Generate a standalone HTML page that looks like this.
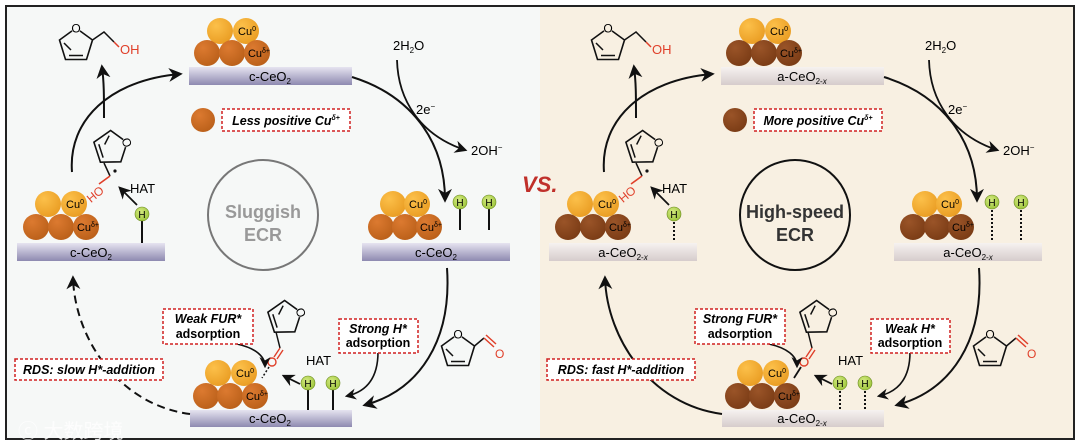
<!DOCTYPE html>
<html><head><meta charset="utf-8"><style>
html,body{margin:0;padding:0;background:#fff;}
svg{display:block;font-family:"Liberation Sans",Arial,sans-serif;}
</style></head><body>
<svg width="1080" height="447" viewBox="0 0 1080 447" xmlns="http://www.w3.org/2000/svg">
<defs>
<radialGradient id="lo" cx="0.35" cy="0.3" r="0.8"><stop offset="0" stop-color="#fcc04a"/><stop offset="1" stop-color="#e89a20"/></radialGradient>
<radialGradient id="do" cx="0.35" cy="0.3" r="0.8"><stop offset="0" stop-color="#dc7a30"/><stop offset="1" stop-color="#b85e18"/></radialGradient>
<radialGradient id="br" cx="0.35" cy="0.3" r="0.8"><stop offset="0" stop-color="#9a5428"/><stop offset="1" stop-color="#783a14"/></radialGradient>
<radialGradient id="hg" cx="0.4" cy="0.35" r="0.7"><stop offset="0" stop-color="#d4ea80"/><stop offset="1" stop-color="#9cc43a"/></radialGradient>
<linearGradient id="barc" x1="0" y1="0" x2="0" y2="1"><stop offset="0" stop-color="#e6e4f0"/><stop offset="1" stop-color="#8e8ab0"/></linearGradient>
<linearGradient id="bara" x1="0" y1="0" x2="0" y2="1"><stop offset="0" stop-color="#f6f2f0"/><stop offset="1" stop-color="#d6cccc"/></linearGradient>
<marker id="ah" viewBox="0 0 10 10" refX="8" refY="5" markerWidth="7" markerHeight="7" orient="auto-start-reverse"><path d="M0,0 L10,5 L0,10 L3,5 z" fill="#111"/></marker>
<g id="furan"><path d="M0,-18 L16.5,-6 L10.5,13.5 L-10.5,13.5 L-16.5,-6 Z" fill="none" stroke="#111" stroke-width="1.6"/><path d="M-7,9.5 L7,9.5 M-12,-3 L-5,4" stroke="#111" stroke-width="1.5"/><circle cx="0" cy="-18" r="5" fill="#f6f8f7" stroke="none"/><text x="0" y="-13.5" font-size="12" text-anchor="middle">O</text></g>
<g id="furanb"><path d="M0,-18 L16.5,-6 L10.5,13.5 L-10.5,13.5 L-16.5,-6 Z" fill="none" stroke="#111" stroke-width="1.6"/><path d="M-7,9.5 L7,9.5 M-12,-3 L-5,4" stroke="#111" stroke-width="1.5"/><circle cx="0" cy="-18" r="5" fill="#f8f0e2" stroke="none"/><text x="0" y="-13.5" font-size="12" text-anchor="middle">O</text></g>
</defs>
<rect x="0" y="0" width="1080" height="447" fill="#fff"/>
<rect x="6" y="6" width="534" height="433" fill="#f6f8f7"/>
<rect x="540" y="6" width="534" height="433" fill="#f8f0e2"/>
<rect x="6" y="6" width="1068" height="433" fill="none" stroke="#222" stroke-width="2"/>

<!-- LEFT HALF -->
<g>
 <circle cx="220" cy="31" r="13" fill="url(#lo)"/><circle cx="246" cy="31" r="13" fill="url(#lo)"/>
 <circle cx="207" cy="53" r="13" fill="url(#do)"/><circle cx="232" cy="53" r="13" fill="url(#do)"/><circle cx="257" cy="53" r="13" fill="url(#do)"/>
 <text x="247" y="35" font-size="11" text-anchor="middle">Cu<tspan font-size="7" dy="-4">0</tspan></text>
 <text x="259" y="57" font-size="11" text-anchor="middle">Cu<tspan font-size="7" dy="-4">δ+</tspan></text>
 <rect x="189" y="67" width="163" height="18" fill="url(#barc)"/>
 <text x="270" y="81" font-size="13" text-anchor="middle">c-CeO<tspan font-size="8" dy="3">2</tspan></text>
 <circle cx="203" cy="120" r="12" fill="url(#do)"/>
 <rect x="222" y="109" width="128" height="22" fill="#fff" stroke="#d02020" stroke-width="1.5" stroke-dasharray="3,2"/>
 <text x="286" y="125" font-size="12.5" font-weight="bold" font-style="italic" text-anchor="middle">Less positive Cu<tspan font-size="7" dy="-5">δ+</tspan></text>
 <use href="#furan" x="76" y="46"/>
 <path d="M92.5,40 L104,32 L114,42" fill="none" stroke="#111" stroke-width="1.5"/><path d="M114,42 L119,47" stroke="#e0402a" stroke-width="1.5"/>
 <text x="120" y="54" font-size="13" fill="#e0402a">OH</text>
 <path d="M72,172 C68,120 110,80 180,74" fill="none" stroke="#111" stroke-width="2" marker-end="url(#ah)"/>
 <path d="M104,118 C104,95 104,82 102,67" fill="none" stroke="#111" stroke-width="2" marker-end="url(#ah)"/>
 <text x="393" y="50" font-size="13">2H<tspan font-size="8" dy="3">2</tspan><tspan dy="-3">O</tspan></text>
 <path d="M397,60 C398,100 420,135 465,150" fill="none" stroke="#111" stroke-width="1.8" marker-end="url(#ah)"/>
 <text x="416" y="114" font-size="13">2e<tspan font-size="8" dy="-5">−</tspan></text>
 <text x="471" y="155" font-size="13">2OH<tspan font-size="8" dy="-5">−</tspan></text>
 <path d="M352,77 C410,95 445,140 445,200" fill="none" stroke="#111" stroke-width="2" marker-end="url(#ah)"/>
 <circle cx="393" cy="204" r="13" fill="url(#lo)"/><circle cx="417" cy="204" r="13" fill="url(#lo)"/>
 <circle cx="381" cy="227" r="13" fill="url(#do)"/><circle cx="405" cy="227" r="13" fill="url(#do)"/><circle cx="429" cy="227" r="13" fill="url(#do)"/>
 <text x="418" y="208" font-size="11" text-anchor="middle">Cu<tspan font-size="7" dy="-4">0</tspan></text>
 <text x="431" y="231" font-size="11" text-anchor="middle">Cu<tspan font-size="7" dy="-4">δ+</tspan></text>
 <line x1="460" y1="208" x2="460" y2="230" stroke="#111" stroke-width="2"/><line x1="489" y1="208" x2="489" y2="230" stroke="#111" stroke-width="2"/>
 <circle cx="460" cy="202" r="7" fill="url(#hg)" stroke="#6a8a20" stroke-width="0.6"/><text x="460" y="206" font-size="10" text-anchor="middle">H</text>
 <circle cx="489" cy="202" r="7" fill="url(#hg)" stroke="#6a8a20" stroke-width="0.6"/><text x="489" y="206" font-size="10" text-anchor="middle">H</text>
 <rect x="362" y="243" width="148" height="18" fill="url(#barc)"/>
 <text x="436" y="257" font-size="13" text-anchor="middle">c-CeO<tspan font-size="8" dy="3">2</tspan></text>
 <circle cx="48" cy="204" r="13" fill="url(#lo)"/><circle cx="74" cy="204" r="13" fill="url(#lo)"/>
 <circle cx="36" cy="227" r="13" fill="url(#do)"/><circle cx="61" cy="227" r="13" fill="url(#do)"/><circle cx="86" cy="227" r="13" fill="url(#do)"/>
 <text x="75" y="208" font-size="11" text-anchor="middle">Cu<tspan font-size="7" dy="-4">0</tspan></text>
 <text x="88" y="231" font-size="11" text-anchor="middle">Cu<tspan font-size="7" dy="-4">δ+</tspan></text>
 <line x1="142" y1="220" x2="142" y2="243" stroke="#111" stroke-width="2"/>
 <circle cx="142" cy="214" r="7" fill="url(#hg)" stroke="#6a8a20" stroke-width="0.6"/><text x="142" y="218" font-size="10" text-anchor="middle">H</text>
 <rect x="17" y="243" width="148" height="18" fill="url(#barc)"/>
 <text x="91" y="257" font-size="13" text-anchor="middle">c-CeO<tspan font-size="8" dy="3">2</tspan></text>
 <use href="#furan" x="110" y="148" transform="rotate(72 110 148)"/>
 <line x1="104" y1="163" x2="110" y2="176" stroke="#111" stroke-width="1.5"/>
 <path d="M110,176 L99,184" stroke="#e0402a" stroke-width="1.6"/>
 <text x="84" y="200" font-size="12" fill="#e0402a" transform="rotate(-40 92 192)">HO</text>
 <circle cx="115" cy="171" r="1.6" fill="#111"/>
 <path d="M137,205 L120,188" stroke="#111" stroke-width="1.8" marker-end="url(#ah)"/>
 <text x="130" y="193" font-size="13">HAT</text>
 <path d="M447,268 C452,340 420,390 365,405" fill="none" stroke="#111" stroke-width="2" marker-end="url(#ah)"/>
 <use href="#furan" x="458" y="352"/>
 <path d="M474.5,346 L484,338" stroke="#111" stroke-width="1.5"/><path d="M484,338 L494,347 M486,335 L496,344" stroke="#e0402a" stroke-width="1.5"/>
 <text x="495" y="358" font-size="12" fill="#e0402a">O</text>
 <circle cx="218" cy="373" r="13" fill="url(#lo)"/><circle cx="244" cy="373" r="13" fill="url(#lo)"/>
 <circle cx="206" cy="396" r="13" fill="url(#do)"/><circle cx="230" cy="396" r="13" fill="url(#do)"/><circle cx="255" cy="396" r="13" fill="url(#do)"/>
 <text x="245" y="377" font-size="11" text-anchor="middle">Cu<tspan font-size="7" dy="-4">0</tspan></text>
 <text x="257" y="400" font-size="11" text-anchor="middle">Cu<tspan font-size="7" dy="-4">δ+</tspan></text>
 <line x1="308" y1="389" x2="308" y2="410" stroke="#111" stroke-width="2"/><line x1="333" y1="389" x2="333" y2="410" stroke="#111" stroke-width="2"/>
 <circle cx="308" cy="383" r="7" fill="url(#hg)" stroke="#6a8a20" stroke-width="0.6"/><text x="308" y="387" font-size="10" text-anchor="middle">H</text>
 <circle cx="333" cy="383" r="7" fill="url(#hg)" stroke="#6a8a20" stroke-width="0.6"/><text x="333" y="387" font-size="10" text-anchor="middle">H</text>
 <rect x="190" y="410" width="162" height="17" fill="url(#barc)"/>
 <text x="270" y="423" font-size="13" text-anchor="middle">c-CeO<tspan font-size="8" dy="3">2</tspan></text>
 <use href="#furan" x="284" y="318" transform="rotate(72 284 318)"/>
 <path d="M276,332 L280,348" stroke="#111" stroke-width="1.5"/>
 <path d="M280,348 L274,357 M283,350 L277,359" stroke="#e0402a" stroke-width="1.4"/>
 <circle cx="272" cy="362" r="4" fill="none" stroke="#e0402a" stroke-width="1.4"/>
 <path d="M269,367 L262,378" stroke="#111" stroke-width="1.5" stroke-dasharray="2,2"/>
 <path d="M300,384 L284,376" stroke="#111" stroke-width="1.8" marker-end="url(#ah)"/>
 <text x="306" y="365" font-size="13">HAT</text>
 <path d="M237,344 C255,348 265,356 265,366" fill="none" stroke="#111" stroke-width="1.6" marker-end="url(#ah)"/>
 <path d="M378,352 C378,380 365,392 347,396" fill="none" stroke="#111" stroke-width="1.6" marker-end="url(#ah)"/>
</g>

<circle cx="263" cy="215" r="55" fill="none" stroke="#777" stroke-width="2"/>
<text x="263" y="218" font-size="18" font-weight="bold" fill="#999" text-anchor="middle">Sluggish</text>
<text x="263" y="241" font-size="18" font-weight="bold" fill="#999" text-anchor="middle">ECR</text>
<rect x="163" y="309" width="90" height="35" fill="#fff" stroke="#d02020" stroke-width="1.5" stroke-dasharray="3,2"/>
<text x="208" y="323" font-size="12.5" font-weight="bold" font-style="italic" text-anchor="middle">Weak FUR*</text>
<text x="208" y="338" font-size="12.5" font-weight="bold" text-anchor="middle">adsorption</text>
<rect x="339" y="319" width="79" height="34" fill="#fff" stroke="#d02020" stroke-width="1.5" stroke-dasharray="3,2"/>
<text x="378" y="333" font-size="12.5" font-weight="bold" font-style="italic" text-anchor="middle">Strong H*</text>
<text x="378" y="347" font-size="12.5" font-weight="bold" text-anchor="middle">adsorption</text>
<path d="M190,414 C120,405 75,340 73,278" fill="none" stroke="#111" stroke-width="2" stroke-dasharray="8,5" marker-end="url(#ah)"/>
<rect x="15" y="359" width="148" height="21" fill="#fff" stroke="#d02020" stroke-width="1.5" stroke-dasharray="3,2"/>
<text x="89" y="374" font-size="12.5" font-weight="bold" font-style="italic" text-anchor="middle">RDS: slow H*-addition</text>
<text x="18" y="438" font-size="20" fill="#fff" opacity="0.85" font-family="'Liberation Sans','Noto Sans CJK SC',sans-serif">ⓒ 大数跨境</text>

<!-- RIGHT HALF -->
<g transform="translate(532,0)">
 <circle cx="220" cy="31" r="13" fill="url(#lo)"/><circle cx="246" cy="31" r="13" fill="url(#lo)"/>
 <circle cx="207" cy="53" r="13" fill="url(#br)"/><circle cx="232" cy="53" r="13" fill="url(#br)"/><circle cx="257" cy="53" r="13" fill="url(#br)"/>
 <text x="247" y="35" font-size="11" text-anchor="middle">Cu<tspan font-size="7" dy="-4">0</tspan></text>
 <text x="259" y="57" font-size="11" text-anchor="middle">Cu<tspan font-size="7" dy="-4">δ+</tspan></text>
 <rect x="189" y="67" width="163" height="18" fill="url(#bara)"/>
 <text x="270" y="81" font-size="13" text-anchor="middle">a-CeO<tspan font-size="8" dy="3">2-<tspan font-style="italic">x</tspan></tspan></text>
 <circle cx="203" cy="120" r="12" fill="url(#br)"/>
 <rect x="222" y="109" width="128" height="22" fill="#fff" stroke="#d02020" stroke-width="1.5" stroke-dasharray="3,2"/>
 <text x="286" y="125" font-size="12.5" font-weight="bold" font-style="italic" text-anchor="middle">More positive Cu<tspan font-size="7" dy="-5">δ+</tspan></text>
 <use href="#furanb" x="76" y="46"/>
 <path d="M92.5,40 L104,32 L114,42" fill="none" stroke="#111" stroke-width="1.5"/><path d="M114,42 L119,47" stroke="#e0402a" stroke-width="1.5"/>
 <text x="120" y="54" font-size="13" fill="#e0402a">OH</text>
 <path d="M72,172 C68,120 110,80 180,74" fill="none" stroke="#111" stroke-width="2" marker-end="url(#ah)"/>
 <path d="M104,118 C104,95 104,82 102,67" fill="none" stroke="#111" stroke-width="2" marker-end="url(#ah)"/>
 <text x="393" y="50" font-size="13">2H<tspan font-size="8" dy="3">2</tspan><tspan dy="-3">O</tspan></text>
 <path d="M397,60 C398,100 420,135 465,150" fill="none" stroke="#111" stroke-width="1.8" marker-end="url(#ah)"/>
 <text x="416" y="114" font-size="13">2e<tspan font-size="8" dy="-5">−</tspan></text>
 <text x="471" y="155" font-size="13">2OH<tspan font-size="8" dy="-5">−</tspan></text>
 <path d="M352,77 C410,95 445,140 445,200" fill="none" stroke="#111" stroke-width="2" marker-end="url(#ah)"/>
 <circle cx="393" cy="204" r="13" fill="url(#lo)"/><circle cx="417" cy="204" r="13" fill="url(#lo)"/>
 <circle cx="381" cy="227" r="13" fill="url(#br)"/><circle cx="405" cy="227" r="13" fill="url(#br)"/><circle cx="429" cy="227" r="13" fill="url(#br)"/>
 <text x="418" y="208" font-size="11" text-anchor="middle">Cu<tspan font-size="7" dy="-4">0</tspan></text>
 <text x="431" y="231" font-size="11" text-anchor="middle">Cu<tspan font-size="7" dy="-4">δ+</tspan></text>
 <line x1="460" y1="210" x2="460" y2="240" stroke="#111" stroke-width="2" stroke-dasharray="2,2"/><line x1="489" y1="210" x2="489" y2="240" stroke="#111" stroke-width="2" stroke-dasharray="2,2"/>
 <circle cx="460" cy="202" r="7" fill="url(#hg)" stroke="#6a8a20" stroke-width="0.6"/><text x="460" y="206" font-size="10" text-anchor="middle">H</text>
 <circle cx="489" cy="202" r="7" fill="url(#hg)" stroke="#6a8a20" stroke-width="0.6"/><text x="489" y="206" font-size="10" text-anchor="middle">H</text>
 <rect x="362" y="243" width="148" height="18" fill="url(#bara)"/>
 <text x="436" y="257" font-size="13" text-anchor="middle">a-CeO<tspan font-size="8" dy="3">2-<tspan font-style="italic">x</tspan></tspan></text>
 <circle cx="48" cy="204" r="13" fill="url(#lo)"/><circle cx="74" cy="204" r="13" fill="url(#lo)"/>
 <circle cx="36" cy="227" r="13" fill="url(#br)"/><circle cx="61" cy="227" r="13" fill="url(#br)"/><circle cx="86" cy="227" r="13" fill="url(#br)"/>
 <text x="75" y="208" font-size="11" text-anchor="middle">Cu<tspan font-size="7" dy="-4">0</tspan></text>
 <text x="88" y="231" font-size="11" text-anchor="middle">Cu<tspan font-size="7" dy="-4">δ+</tspan></text>
 <line x1="142" y1="222" x2="142" y2="242" stroke="#111" stroke-width="2" stroke-dasharray="2,2"/>
 <circle cx="142" cy="214" r="7" fill="url(#hg)" stroke="#6a8a20" stroke-width="0.6"/><text x="142" y="218" font-size="10" text-anchor="middle">H</text>
 <rect x="17" y="243" width="148" height="18" fill="url(#bara)"/>
 <text x="91" y="257" font-size="13" text-anchor="middle">a-CeO<tspan font-size="8" dy="3">2-<tspan font-style="italic">x</tspan></tspan></text>
 <use href="#furanb" x="110" y="148" transform="rotate(72 110 148)"/>
 <line x1="104" y1="163" x2="110" y2="176" stroke="#111" stroke-width="1.5"/>
 <path d="M110,176 L99,184" stroke="#e0402a" stroke-width="1.6"/>
 <text x="84" y="200" font-size="12" fill="#e0402a" transform="rotate(-40 92 192)">HO</text>
 <circle cx="115" cy="171" r="1.6" fill="#111"/>
 <path d="M137,205 L120,188" stroke="#111" stroke-width="1.8" marker-end="url(#ah)"/>
 <text x="130" y="193" font-size="13">HAT</text>
 <path d="M447,268 C452,340 420,390 365,405" fill="none" stroke="#111" stroke-width="2" marker-end="url(#ah)"/>
 <use href="#furanb" x="458" y="352"/>
 <path d="M474.5,346 L484,338" stroke="#111" stroke-width="1.5"/><path d="M484,338 L494,347 M486,335 L496,344" stroke="#e0402a" stroke-width="1.5"/>
 <text x="495" y="358" font-size="12" fill="#e0402a">O</text>
 <circle cx="218" cy="373" r="13" fill="url(#lo)"/><circle cx="244" cy="373" r="13" fill="url(#lo)"/>
 <circle cx="206" cy="396" r="13" fill="url(#br)"/><circle cx="230" cy="396" r="13" fill="url(#br)"/><circle cx="255" cy="396" r="13" fill="url(#br)"/>
 <text x="245" y="377" font-size="11" text-anchor="middle">Cu<tspan font-size="7" dy="-4">0</tspan></text>
 <text x="257" y="400" font-size="11" text-anchor="middle">Cu<tspan font-size="7" dy="-4">δ+</tspan></text>
 <line x1="308" y1="391" x2="308" y2="409" stroke="#111" stroke-width="2" stroke-dasharray="2,2"/><line x1="333" y1="391" x2="333" y2="409" stroke="#111" stroke-width="2" stroke-dasharray="2,2"/>
 <circle cx="308" cy="383" r="7" fill="url(#hg)" stroke="#6a8a20" stroke-width="0.6"/><text x="308" y="387" font-size="10" text-anchor="middle">H</text>
 <circle cx="333" cy="383" r="7" fill="url(#hg)" stroke="#6a8a20" stroke-width="0.6"/><text x="333" y="387" font-size="10" text-anchor="middle">H</text>
 <rect x="190" y="410" width="162" height="17" fill="url(#bara)"/>
 <text x="270" y="423" font-size="13" text-anchor="middle">a-CeO<tspan font-size="8" dy="3">2-<tspan font-style="italic">x</tspan></tspan></text>
 <use href="#furanb" x="284" y="318" transform="rotate(72 284 318)"/>
 <path d="M276,332 L280,348" stroke="#111" stroke-width="1.5"/>
 <path d="M280,348 L274,357 M283,350 L277,359" stroke="#e0402a" stroke-width="1.4"/>
 <circle cx="272" cy="362" r="4" fill="none" stroke="#e0402a" stroke-width="1.4"/>
 <path d="M269,367 L262,378" stroke="#111" stroke-width="1.8"/>
 <path d="M300,384 L284,376" stroke="#111" stroke-width="1.8" marker-end="url(#ah)"/>
 <text x="306" y="365" font-size="13">HAT</text>
 <path d="M237,344 C255,348 265,356 265,366" fill="none" stroke="#111" stroke-width="1.6" marker-end="url(#ah)"/>
 <path d="M378,352 C378,380 365,392 347,396" fill="none" stroke="#111" stroke-width="1.6" marker-end="url(#ah)"/>
 <circle cx="263" cy="215" r="55" fill="none" stroke="#111" stroke-width="2"/>
 <text x="263" y="218" font-size="18" font-weight="bold" fill="#333" text-anchor="middle">High-speed</text>
 <text x="263" y="241" font-size="18" font-weight="bold" fill="#333" text-anchor="middle">ECR</text>
 <rect x="163" y="309" width="90" height="35" fill="#fff" stroke="#d02020" stroke-width="1.5" stroke-dasharray="3,2"/>
 <text x="208" y="323" font-size="12.5" font-weight="bold" font-style="italic" text-anchor="middle">Strong FUR*</text>
 <text x="208" y="338" font-size="12.5" font-weight="bold" text-anchor="middle">adsorption</text>
 <rect x="339" y="319" width="79" height="34" fill="#fff" stroke="#d02020" stroke-width="1.5" stroke-dasharray="3,2"/>
 <text x="378" y="333" font-size="12.5" font-weight="bold" font-style="italic" text-anchor="middle">Weak H*</text>
 <text x="378" y="347" font-size="12.5" font-weight="bold" text-anchor="middle">adsorption</text>
 <path d="M190,414 C120,405 75,340 73,278" fill="none" stroke="#111" stroke-width="2" marker-end="url(#ah)"/>
 <rect x="15" y="359" width="148" height="21" fill="#fff" stroke="#d02020" stroke-width="1.5" stroke-dasharray="3,2"/>
 <text x="89" y="374" font-size="12.5" font-weight="bold" font-style="italic" text-anchor="middle">RDS: fast H*-addition</text>
</g>
<text x="522" y="192" font-size="22" font-weight="bold" font-style="italic" fill="#c0302a">VS.</text>
</svg>
</body></html>
